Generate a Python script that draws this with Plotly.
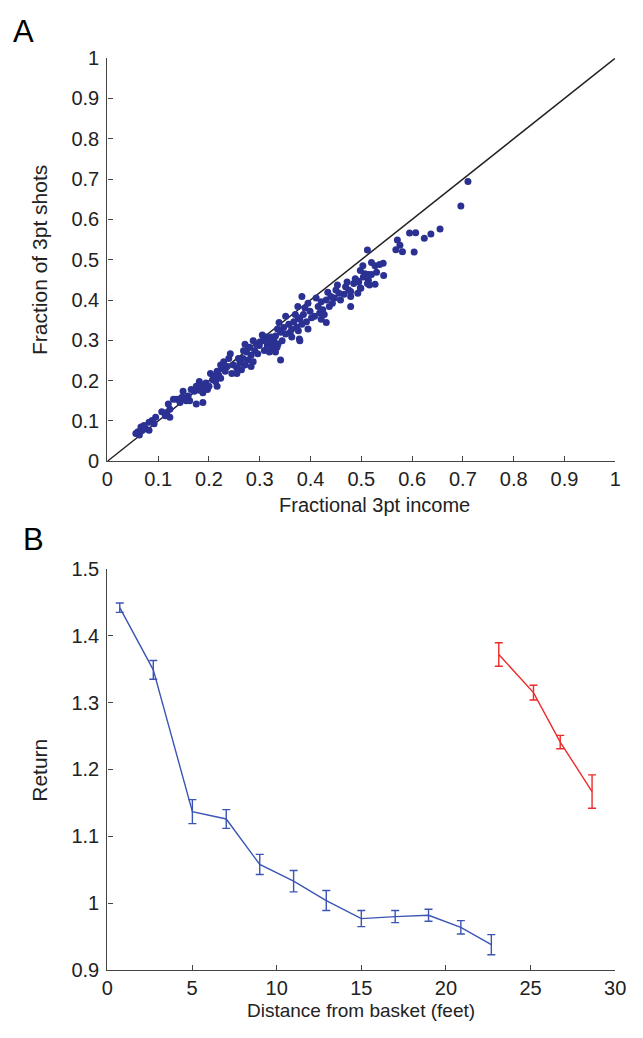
import plotly.graph_objects as go

# ---------------- Panel A data ----------------
income = [
    0.710, 0.696, 0.655, 0.637, 0.624, 0.607, 0.595, 0.604, 0.581, 0.568, 0.571, 0.576,
    0.512, 0.543, 0.536, 0.520, 0.527, 0.544, 0.530, 0.520, 0.503, 0.498, 0.507, 0.514,
    0.527, 0.499, 0.495, 0.493,
    0.514, 0.504, 0.512, 0.516, 0.493, 0.485, 0.498, 0.472, 0.469, 0.475, 0.466, 0.479,
    0.453, 0.450, 0.456, 0.447, 0.459, 0.434, 0.440, 0.431, 0.443, 0.437, 0.479, 0.411,
    0.421, 0.415, 0.424, 0.418, 0.427, 0.408, 0.421, 0.431, 0.383, 0.395, 0.389, 0.399,
    0.386, 0.402, 0.392, 0.379, 0.375, 0.370, 0.376, 0.367, 0.383, 0.373, 0.363, 0.376,
    0.395, 0.351, 0.357, 0.347, 0.360, 0.351, 0.363, 0.338, 0.335, 0.341, 0.331, 0.344,
    0.336, 0.328, 0.322, 0.379, 0.341, 0.312, 0.306, 0.315, 0.325, 0.309, 0.319, 0.299,
    0.331, 0.287, 0.293, 0.280, 0.290, 0.296, 0.283, 0.274, 0.277, 0.267, 0.287, 0.271,
    0.283, 0.488, 0.479, 0.378,
    0.305, 0.318, 0.326, 0.300, 0.334, 0.271, 0.278, 0.268,
    0.258, 0.261, 0.255, 0.248, 0.264, 0.242, 0.239, 0.229, 0.236, 0.226, 0.232, 0.245,
    0.255, 0.223, 0.216, 0.219, 0.210, 0.203, 0.207, 0.213, 0.223, 0.216, 0.181, 0.184,
    0.194, 0.191, 0.197, 0.200, 0.175, 0.181, 0.188, 0.171, 0.165, 0.175, 0.188, 0.149,
    0.159, 0.149, 0.155, 0.143, 0.146, 0.162, 0.136, 0.130, 0.120, 0.123, 0.117, 0.107,
    0.114, 0.123, 0.095, 0.088, 0.092, 0.082, 0.072, 0.066, 0.069, 0.060, 0.075, 0.056,
    0.063, 0.082,
]
shots = [
    0.694, 0.633, 0.576, 0.564, 0.553, 0.567, 0.566, 0.519, 0.520, 0.525, 0.549, 0.536,
    0.524, 0.491, 0.488, 0.493, 0.485, 0.461, 0.469, 0.463, 0.485, 0.473, 0.465, 0.449,
    0.439, 0.429, 0.445, 0.417,
    0.463, 0.457, 0.441, 0.437, 0.447, 0.441, 0.430, 0.445, 0.433, 0.425, 0.414, 0.409,
    0.437, 0.425, 0.417, 0.405, 0.400, 0.419, 0.409, 0.400, 0.392, 0.384, 0.384, 0.405,
    0.396, 0.384, 0.376, 0.368, 0.364, 0.360, 0.352, 0.344, 0.409, 0.392, 0.380, 0.372,
    0.364, 0.356, 0.346, 0.352, 0.384, 0.364, 0.356, 0.346, 0.340, 0.333, 0.328, 0.324,
    0.328, 0.360, 0.340, 0.332, 0.320, 0.316, 0.308, 0.344, 0.328, 0.320, 0.311, 0.299,
    0.291, 0.299, 0.308, 0.299, 0.251, 0.308, 0.299, 0.287, 0.279, 0.275, 0.271, 0.287,
    0.271, 0.299, 0.291, 0.283, 0.275, 0.267, 0.263, 0.271, 0.251, 0.255, 0.247, 0.239,
    0.235, 0.453, 0.421, 0.303,
    0.313, 0.300, 0.288, 0.296, 0.283, 0.290, 0.282, 0.274,
    0.255, 0.243, 0.231, 0.239, 0.227, 0.267, 0.255, 0.247, 0.235, 0.231, 0.223, 0.218,
    0.218, 0.239, 0.223, 0.214, 0.210, 0.218, 0.202, 0.198, 0.206, 0.186, 0.198, 0.190,
    0.194, 0.182, 0.178, 0.186, 0.186, 0.176, 0.170, 0.174, 0.178, 0.142, 0.146, 0.174,
    0.162, 0.158, 0.150, 0.146, 0.158, 0.150, 0.154, 0.154, 0.142, 0.129, 0.121, 0.123,
    0.113, 0.109, 0.109, 0.101, 0.093, 0.097, 0.089, 0.085, 0.077, 0.073, 0.081, 0.069,
    0.065, 0.077,
]
diag_x = [0, 1]
diag_y = [0, 1]

# ---------------- Panel B data ----------------
dist_2pt = [0.73, 2.71, 5.02, 7.02, 9.0, 11.0, 12.93, 15.0, 17.0, 18.97, 20.88, 22.68]
ret_2pt = [1.442, 1.349, 1.137, 1.126, 1.058, 1.033, 1.004, 0.977, 0.980, 0.982, 0.964, 0.938]
err_2pt = [0.007, 0.014, 0.018, 0.014, 0.015, 0.016, 0.015, 0.012, 0.009, 0.009, 0.010, 0.015]

dist_3pt = [23.12, 25.17, 26.75, 28.63]
ret_3pt = [1.372, 1.315, 1.241, 1.167]
err_3pt = [0.0175, 0.011, 0.010, 0.025]

FONT = "Liberation Sans, Arial, sans-serif"
AX = "#444444"
TXT = "#222222"
# page body has an 8px default margin: draw inside the remaining area
OFF = 8
W, H = 643 - 2 * OFF, 1038 - 2 * OFF

fig = go.Figure()
fig.add_trace(go.Scatter(x=diag_x, y=diag_y, mode="lines",
                         line=dict(color="#222222", width=1.5),
                         xaxis="x", yaxis="y", showlegend=False, hoverinfo="skip"))
fig.add_trace(go.Scatter(x=income, y=shots, mode="markers",
                         marker=dict(color="#2b3192", size=7),
                         xaxis="x", yaxis="y", showlegend=False, cliponaxis=False))
fig.add_trace(go.Scatter(x=dist_2pt, y=ret_2pt, mode="lines",
                         line=dict(color="#3a55b4", width=1.4),
                         error_y=dict(type="data", array=err_2pt, color="#3a55b4",
                                      thickness=1.4, width=4),
                         xaxis="x2", yaxis="y2", showlegend=False))
fig.add_trace(go.Scatter(x=dist_3pt, y=ret_3pt, mode="lines",
                         line=dict(color="#ee2a2a", width=1.4),
                         error_y=dict(type="data", array=err_3pt, color="#ee2a2a",
                                      thickness=1.4, width=4),
                         xaxis="x2", yaxis="y2", showlegend=False))


def px(v):
    return (v - OFF) / W


def py(v):
    return 1 - (v - OFF) / H


axis_common = dict(showline=True, linecolor=AX, linewidth=1.3, ticks="inside",
                   ticklen=5, tickwidth=1.2, tickcolor=AX, showgrid=False,
                   zeroline=False, mirror=False,
                   tickfont=dict(family=FONT, size=20, color=TXT))


def label(text, x, y, size=20, angle=0, color=TXT):
    return dict(text=text, x=px(x), y=py(y), xref="paper", yref="paper",
                xanchor="center", yanchor="middle", showarrow=False,
                textangle=angle, font=dict(family=FONT, size=size, color=color))


fig.update_layout(
    width=W, height=H,
    margin=dict(l=0, r=0, t=0, b=0),
    paper_bgcolor="white", plot_bgcolor="white",
    xaxis=dict(domain=[px(104), px(626)], range=[0, 1], dtick=0.1, tick0=0,
               anchor="y", **axis_common),
    yaxis=dict(domain=[py(460), py(48)], range=[0, 1], dtick=0.1, tick0=0,
               anchor="x", ticklabelstandoff=3, **axis_common),
    xaxis2=dict(domain=[px(104), px(626)], range=[0, 30], dtick=5, tick0=0,
                anchor="y2", **axis_common),
    yaxis2=dict(domain=[py(980), py(570)], range=[0.9, 1.5], dtick=0.1, tick0=0.9,
                anchor="x2", ticklabelstandoff=3, **axis_common),
    annotations=[
        label("A", 18, 21, size=31, color="#000"),
        label("B", 28, 540, size=31, color="#000"),
        label("Fractional 3pt income", 379, 505),
        label("Fraction of 3pt shots", 34, 254, size=21, angle=-90),
        label("Return", 34, 776, size=21, angle=-90),
        label("Distance from basket (feet)", 365, 1021, size=19),
    ],
)

fig.write_html("out.html")
